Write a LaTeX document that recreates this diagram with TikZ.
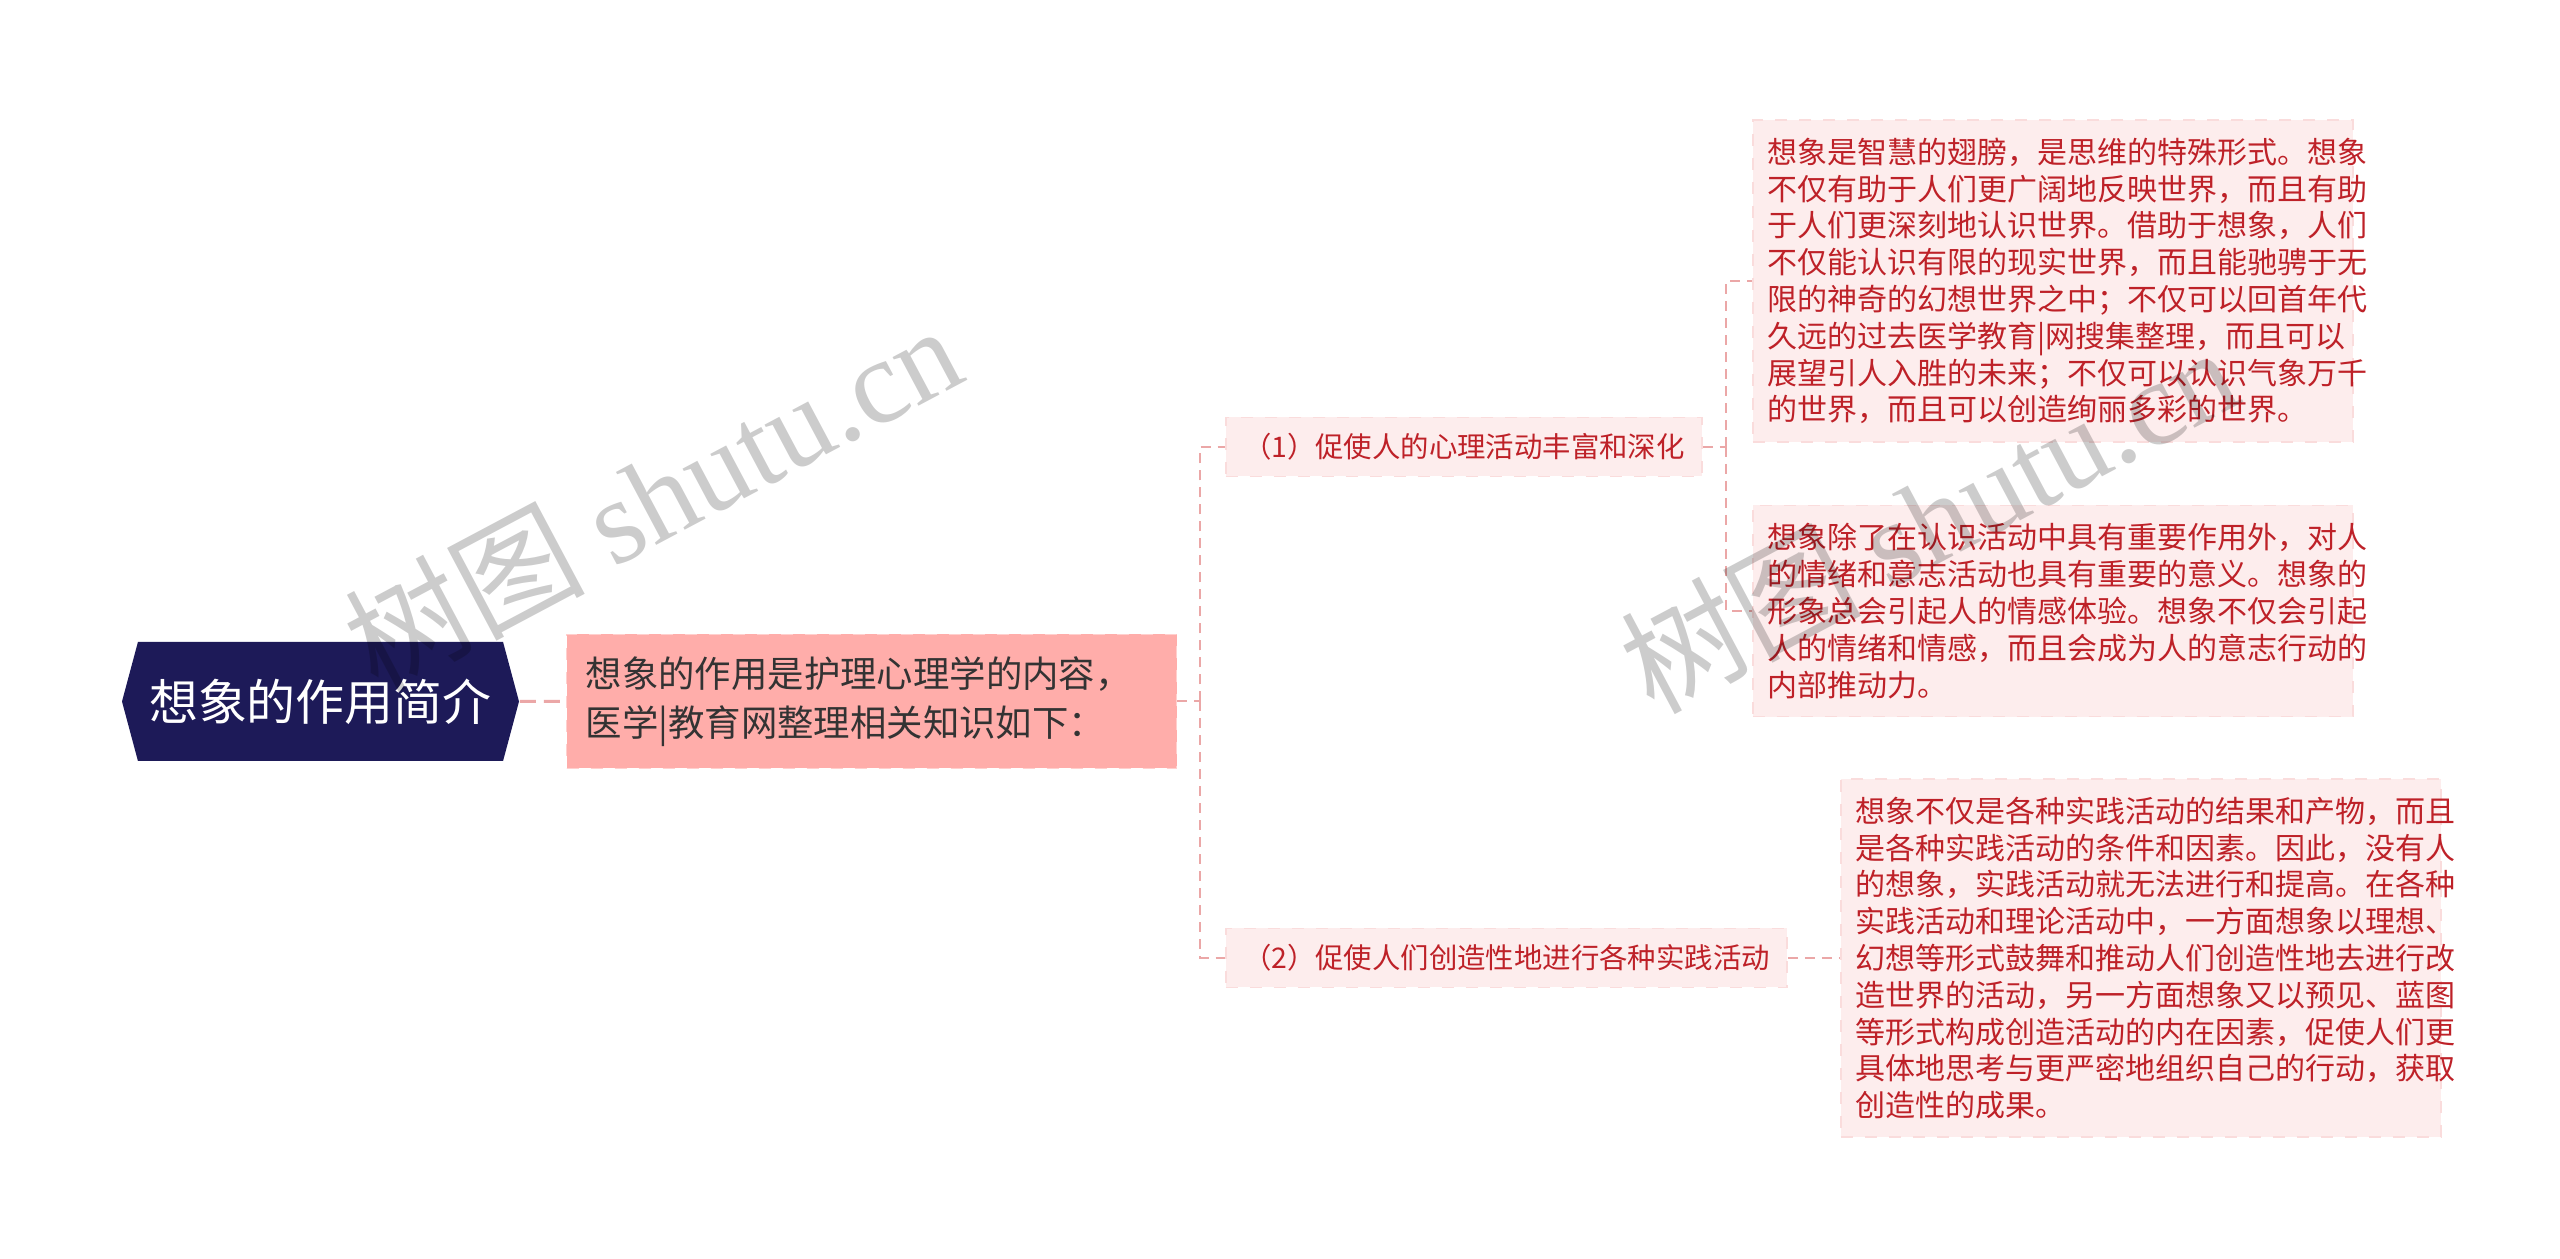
\documentclass[tikz,border=0pt]{standalone}
\usepackage{fontspec}
\setmainfont{Noto Sans CJK SC}
\newfontfamily\markfont{Liberation Serif}
\usepackage{tikz}
\usetikzlibrary{shapes.symbols, positioning}
\definecolor{rootnavy}{HTML}{1D1A58}
\definecolor{introfill}{HTML}{FFADAA}
\definecolor{introline}{HTML}{FFD0CE}
\definecolor{softfill}{HTML}{FDEDED}
\definecolor{softline}{HTML}{FADCDC}
\definecolor{deepred}{HTML}{BE2128}
\definecolor{linkpink}{HTML}{EBA7A7}
\tikzstyle{rootbox} = [signal, signal to = west and east, signal pointer angle = 150, minimum width = 99.25pt, minimum height = 29.75pt, inner sep = 0pt, fill = rootnavy, text = white, font = \fontsize{12.25pt}{14pt}\selectfont]
\tikzstyle{introbox} = [rectangle, anchor = west, fill = introfill, draw = introline, dashed, text width = 143pt, align = left, inner xsep = 4.75pt, minimum height = 33.5pt, text = black!80, font = \fontsize{9.1pt}{12.25pt}\selectfont]
\tikzstyle{branchbox} = [rectangle, anchor = west, fill = softfill, draw = softline, dashed, inner xsep = 4.3pt, inner ysep = 0pt, minimum height = 14.75pt, text = deepred, font = \fontsize{7.1pt}{8pt}\selectfont]
\tikzstyle{leafbox} = [rectangle, anchor = west, fill = softfill, draw = softline, dashed, text width = 142.5pt, align = left, inner xsep = 3.75pt, inner ysep = 4.5pt, text = deepred, font = \fontsize{7.5pt}{9.2pt}\selectfont]
\tikzstyle{link} = [draw = linkpink, line width = 0.5pt, dash pattern = on 2.5pt off 1.75pt]
\tikzstyle{watermark} = [rotate = 28, text = black, text opacity = 0.2, font = \fontsize{30pt}{30pt}\selectfont]

\begin{document}
\begin{tikzpicture}[x = 0.25pt, y = -0.25pt]
	\useasboundingbox (0,0) rectangle (2560,1259);
	\fill[white] (0,0) rectangle (2560,1259);

	\node (root)[rootbox] at (320.5,701.5){想象的作用简介};
	\node (intro)[introbox, right = 11.5pt of root]{想象的作用是护理心理学的内容，\\医学|教育网整理相关知识如下：};
	\node (branch1)[branchbox] at (1225,447){（1）促使人的心理活动丰富和深化};
	\node (branch2)[branchbox] at (1225,958){（2）促使人们创造性地进行各种实践活动};
	\node (leafA)[leafbox] at (1752,281){想象是智慧的翅膀，是思维的特殊形式。想象\\不仅有助于人们更广阔地反映世界，而且有助\\于人们更深刻地认识世界。借助于想象，人们\\不仅能认识有限的现实世界，而且能驰骋于无\\限的神奇的幻想世界之中；不仅可以回首年代\\久远的过去医学教育|网搜集整理，而且可以\\展望引人入胜的未来；不仅可以认识气象万千\\的世界，而且可以创造绚丽多彩的世界。};
	\node (leafB)[leafbox] at (1752,611){想象除了在认识活动中具有重要作用外，对人\\的情绪和意志活动也具有重要的意义。想象的\\形象总会引起人的情感体验。想象不仅会引起\\人的情绪和情感，而且会成为人的意志行动的\\内部推动力。};
	\node (leafC)[leafbox, right = 13pt of branch2]{想象不仅是各种实践活动的结果和产物，而且\\是各种实践活动的条件和因素。因此，没有人\\的想象，实践活动就无法进行和提高。在各种\\实践活动和理论活动中，一方面想象以理想、\\幻想等形式鼓舞和推动人们创造性地去进行改\\造世界的活动，另一方面想象又以预见、蓝图\\等形式构成创造活动的内在因素，促使人们更\\具体地思考与更严密地组织自己的行动，获取\\创造性的成果。};

	\coordinate (fork1) at (1200,701.5);
	\coordinate (fork2) at (1726,447);

	\draw [draw = linkpink, line width = 0.75pt, dash pattern = on 4pt off 2pt] (root) -- (intro);
	\draw [link] (intro) -- (fork1);
	\draw [link] (fork1) |- (branch1);
	\draw [link] (fork1) |- (branch2);
	\draw [link] (branch1) -- (fork2);
	\draw [link] (fork2) |- (leafA);
	\draw [link] (fork2) |- (leafB);
	\draw [link] (branch2) -- (leafC);

	\node (mark1)[watermark] at (652,496){树图 {\markfont shutu.cn}};
	\node (mark2)[watermark] at (1928,518){树图 {\markfont shutu.cn}};
\end{tikzpicture}
\end{document}
